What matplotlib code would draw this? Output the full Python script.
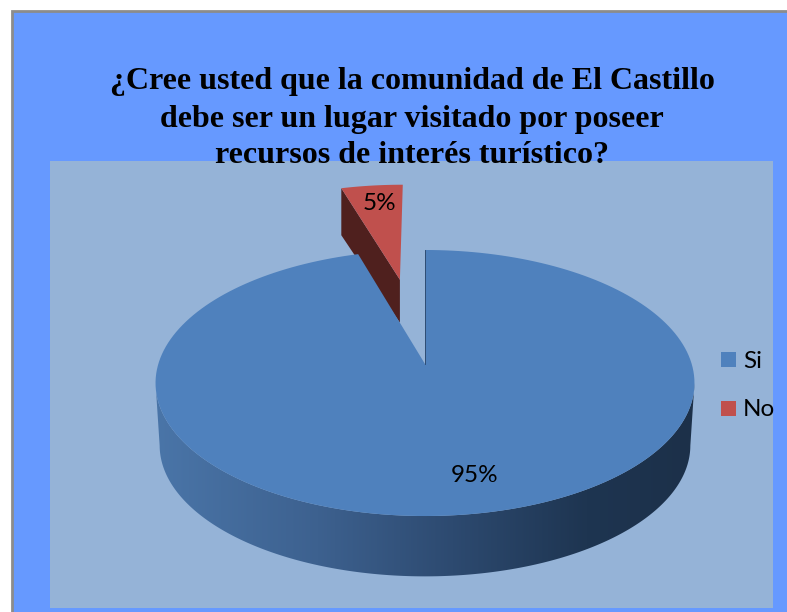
import numpy as np
import matplotlib
matplotlib.use('Agg')
import matplotlib.pyplot as plt
from matplotlib.colors import LinearSegmentedColormap
from matplotlib.patches import Polygon, Rectangle

W, H = 787, 612

title_lines = ['¿Cree usted que la comunidad de El Castillo',
               'debe ser un lugar visitado por poseer',
               'recursos de interés turístico?']
categories = ['Si', 'No']
values = [95, 5]
labels = ['95%', '5%']

BLUE = '#4f81bd'
RED = '#c0504d'
RED_DARK = '#4f201e'
PLOT_BG = '#95b3d7'
CHART_BG = '#6699ff'
side_stops = [(0.0, '#4a75a8'), (0.3, '#3d618f'), (0.55, '#2d4a70'),
              (0.8, '#1e3551'), (1.0, '#1c3049')]

# pie is a flat disc seen in perspective, apex is the disc centre on screen
APEX = (425, 364)
TILT = 1 / 7
SCALE_X, SCALE_Y = 266.7, 130.3
DEPTH = 63
EXPLODE = 0.72
# the cut looks a bit narrower on screen than its share
SQUEEZE = 0.92


def project(u, v):
  d = 1 + TILT * v
  return APEX[0] + SCALE_X * u / d, APEX[1] - SCALE_Y * v / d


def wedge(start, end, offset=(0, 0)):
  # angles are degrees clockwise from 12 o'clock
  t = np.radians(np.linspace(start, end, 200))
  u = np.concatenate([[0], np.sin(t)]) + offset[0]
  v = np.concatenate([[0], np.cos(t)]) + offset[1]
  return np.column_stack(project(u, v))


fig = plt.figure(figsize=(W / 100, H / 100), dpi=100, facecolor='white')
ax = fig.add_axes([0, 0, 1, 1])
ax.set_xlim(0, W)
ax.set_ylim(H, 0)
ax.axis('off')

# right and bottom border fall off the page
ax.add_patch(Rectangle((12, 11), W, H, fc=CHART_BG, ec='#8c8c8c', lw=2, zorder=0))
ax.add_patch(Rectangle((50, 161), 723, 447, fc=PLOT_BG, ec='none', zorder=1))

cut = 360 - values[1] / sum(values) * 360 * SQUEEZE

# side of the pie, front half of the rim only
front = np.degrees(np.arccos(-TILT))
t = np.radians(np.linspace(front, 360 - front, 300))
top_x, top_y = project(np.sin(t), np.cos(t))
low_x, low_y = project(np.sin(t) * 0.985, np.cos(t) * 0.985)
side = Polygon(np.column_stack([np.r_[top_x, low_x[::-1]],
                                np.r_[top_y, low_y[::-1] + DEPTH]]),
               fc='none', ec='none', zorder=2)
ax.add_patch(side)
cmap = LinearSegmentedColormap.from_list('side', side_stops)
grad = ax.imshow(np.linspace(0, 1, 256).reshape(1, -1), cmap=cmap, aspect='auto',
                 extent=(156, 695, 600, 370), zorder=2)
grad.set_clip_path(side)
ax.set_xlim(0, W)
ax.set_ylim(H, 0)

# exploded slice, its side goes under the blue top
mid = np.radians((cut + 360) / 2)
off = (EXPLODE * np.sin(mid), EXPLODE * np.cos(mid))
red_top = wedge(cut, 360, off)
apex, left = red_top[0], red_top[1]
ax.add_patch(Polygon([left, apex, apex + (0, DEPTH - 20), left + (0, DEPTH - 16)],
                     fc=RED_DARK, ec='none', zorder=3))
ax.add_patch(Polygon(red_top, fc=RED, ec='none', zorder=4))

ax.add_patch(Polygon(wedge(0, cut), fc=BLUE, ec='none', zorder=5))
ax.plot([APEX[0], APEX[0]], [APEX[1], APEX[1] - 114], color='#2a4568', lw=0.6, zorder=6)

ax.text(475, 476, labels[0], fontsize=17.5, family='Lato', ha='center', va='center', zorder=7)
ax.text(379, 204, labels[1], fontsize=17.5, family='Lato', ha='center', va='center', zorder=7)

for cat, col, y, text_y in zip(categories, [BLUE, RED], [360, 409], [362, 410]):
  ax.add_patch(Rectangle((721, y - 8), 15, 15, fc=col, ec='none', zorder=7))
  ax.text(743, text_y, cat, fontsize=17.5, family='Lato', ha='left', va='center', zorder=7)

for line, y in zip(title_lines, [89, 127, 163]):
  ax.text(412, y, line, fontsize=23, family='Liberation Serif', weight='bold',
          ha='center', va='baseline', color='black', zorder=8)

fig.savefig('out.png', dpi=100, facecolor='white')
